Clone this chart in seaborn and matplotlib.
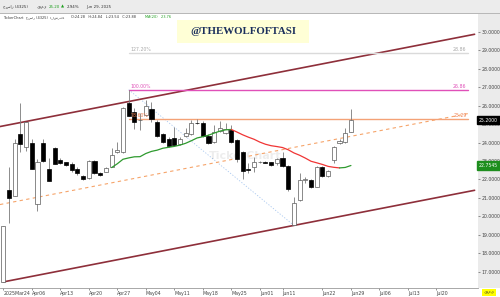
import numpy as np
import pandas as pd
import matplotlib
matplotlib.use("Agg")
import matplotlib.pyplot as plt
import matplotlib.transforms as mtransforms
from matplotlib.patches import Rectangle
import seaborn as sns

# ---------------- data ----------------
opens  = [16.45, 21.43, 21.10, 24.46, 23.74, 23.99, 20.66, 23.96, 22.57, 23.69,
          23.05, 22.93, 22.84, 22.55, 22.19, 22.06, 23.00, 22.37, 22.42, 22.69,
          23.50, 23.50, 26.16, 25.64, 25.20, 25.49, 25.80, 25.13, 24.44, 24.19,
          24.26, 23.90, 24.35, 24.45, 25.07, 25.07, 24.37, 24.01, 24.62, 24.50,
          24.68, 24.14, 23.50, 22.55, 22.69, 22.92, 22.93, 22.93, 22.87, 23.18,
          22.75, 19.51, 20.89, 21.97, 21.97, 21.61, 22.69, 22.19, 23.05, 23.96,
          24.04, 24.59]
highs  = [19.48, 22.66, 24.17, 26.16, 25.12, 24.17, 23.11, 24.17, 23.15, 23.77,
          23.15, 22.96, 22.96, 22.66, 22.23, 23.05, 23.05, 22.40, 22.68, 23.69,
          24.04, 25.92, 26.86, 25.85, 25.58, 26.30, 26.18, 25.20, 24.53, 24.28,
          24.86, 24.30, 24.77, 25.22, 25.27, 25.15, 24.45, 24.95, 25.17, 25.04,
          24.95, 24.20, 23.55, 22.89, 23.20, 23.00, 22.98, 22.96, 23.15, 23.50,
          22.80, 21.07, 22.33, 22.12, 22.00, 22.75, 22.75, 22.50, 23.80, 24.17,
          24.77, 25.80]
lows   = [16.45, 19.66, 21.10, 23.50, 23.56, 22.57, 20.31, 22.96, 21.93, 22.84,
          22.84, 22.75, 22.42, 22.24, 21.98, 22.00, 22.30, 22.20, 22.38, 22.69,
          23.45, 23.43, 25.45, 24.72, 24.68, 25.45, 25.13, 24.30, 24.00, 23.78,
          23.80, 23.85, 24.30, 24.40, 24.98, 24.30, 23.90, 23.95, 24.55, 24.45,
          23.95, 22.95, 22.01, 22.35, 22.42, 22.88, 22.88, 22.75, 22.80, 22.70,
          21.40, 19.51, 20.85, 21.79, 21.55, 21.60, 22.15, 22.15, 22.87, 23.90,
          24.00, 24.55]
closes = [19.48, 20.98, 23.99, 23.90, 25.09, 22.57, 22.96, 23.00, 21.93, 22.84,
          22.87, 22.78, 22.51, 22.33, 22.03, 23.00, 22.37, 22.24, 22.64, 23.32,
          23.60, 25.89, 25.45, 25.09, 25.24, 25.98, 25.26, 24.35, 24.01, 23.83,
          23.87, 24.17, 24.50, 25.07, 25.04, 24.37, 23.96, 24.55, 24.78, 24.72,
          24.01, 23.09, 22.47, 22.52, 22.96, 22.95, 22.90, 22.77, 23.09, 22.75,
          21.47, 20.74, 21.97, 22.00, 21.61, 22.69, 22.19, 22.46, 23.77, 24.08,
          24.50, 25.20]

date_tick_pos    = [0, 5, 10, 15, 20, 25, 30, 35, 40, 45, 49, 56, 61, 66, 71, 76]
date_tick_labels = ["2025Mar24", "Apr06", "Apr13", "Apr20", "Apr27", "May04",
                    "May11", "May18", "May25", "Jun01", "Jun11", "Jun22",
                    "Jun29", "Jul06", "Jul13", "Jul20"]
price_ticks = list(range(17, 31))

ma_period = 20
fib_high_idx, fib_low_idx = 22, 51
fib_levels = [1.272, 1.0, 0.786]
fib_names = ["127.20%", "100.00%", "78.60%"]
channel_width = 8.45

# ---------------- frame ----------------
df = pd.DataFrame({"o": opens, "h": highs, "l": lows, "c": closes})
df["i"] = np.arange(len(df))
df["ma"] = df["c"].rolling(ma_period).mean()

sns.set_style("white")
plt.rcParams["font.family"] = ["DejaVu Sans"]

W, H = 500, 297
fig = plt.figure(figsize=(5.0, 2.97), dpi=100)
fig.patch.set_facecolor("white")

# header band + right price panel (behind everything)
fig.patches.append(Rectangle((0, 1 - 13 / H), 1, 13 / H, transform=fig.transFigure,
                             fc="#ECECEC", ec="none", zorder=-5))
fig.patches.append(Rectangle((0, 1 - 14 / H), 1, 1.2 / H, transform=fig.transFigure,
                             fc="#B8B8B8", ec="none", zorder=-5))
fig.patches.append(Rectangle((478 / W, 9 / H), 22 / W, (288 - 14) / H,
                             transform=fig.transFigure, fc="#EBEBEB", ec="none", zorder=-5))

ax = fig.add_axes([0, 9 / H, 478 / W, (288 - 14) / H])
ax.set_facecolor("white")
x0, x1 = -0.58, 83.3
ax.set_xlim(x0, x1)
ax.set_ylim(16.12, 30.96)

# ---------------- channel ----------------
slope = (lows[fib_low_idx] - lows[0]) / (fib_low_idx - 0)
cx = np.array([x0, 82.7])
lower = lows[0] + slope * (cx - 0)
upper = lower + channel_width
ax.plot([0, 82.7], lows[0] + slope * np.array([0, 82.7]), color="#8E2F3A", lw=1.2, zorder=2)
ax.plot(cx, upper, color="#8E2F3A", lw=1.2, zorder=2)
mx = np.array([x0, 81.5])
ax.plot(mx, lows[0] + slope * mx + channel_width / 2, color="#F6A46A", lw=0.8,
        ls=(0, (3, 3)), zorder=2)

# ---------------- fibonacci ----------------
lo, hi = lows[fib_low_idx], highs[fib_high_idx]
fib_colors = ["#DADADA", "#E050B8", "#F4A276"]
fib_text_colors = ["#A8A8A8", "#E050B8", "#F08050"]
for lvl, name, col, tcol in zip(fib_levels, fib_names, fib_colors, fib_text_colors):
    v = lo + lvl * (hi - lo)
    ax.plot([fib_high_idx, 81.5], [v, v], color=col, lw=1.0, zorder=2)
    ax.text(fib_high_idx + 0.3, v + 0.05, name, fontsize=3.3, color=tcol,
            va="bottom", ha="left", zorder=6)
    ax.text(81.3, v + 0.03, f"{v:.2f}", fontsize=3.3, color=tcol,
            va="bottom", ha="right", zorder=6)
ax.plot([fib_high_idx, fib_low_idx], [hi, lo], color="#A9C8F0", lw=0.6,
        ls=(0, (1.5, 2)), zorder=1)

# watermark
ax.text(42.5, 23.25, "TickerChart", fontsize=8, fontweight="bold", color="#000000",
        alpha=0.07, ha="center", va="center", zorder=1)

# ---------------- candles ----------------
bw = 0.72
for _, r in df.iterrows():
    ax.vlines(r.i, r.l, r.h, color="#7A7A7A", lw=0.6, zorder=3)
    bottom = min(r.o, r.c)
    height = max(abs(r.c - r.o), 0.03)
    up = r.c >= r.o
    ax.bar(r.i, height, bottom=bottom, width=bw,
           color="white" if up else "black",
           edgecolor="#5A5A5A" if up else "black", linewidth=0.5, zorder=4)

# ---------------- moving average (green rising / red falling) ----------------
ma = df.dropna(subset=["ma"]).reset_index(drop=True)
rising = (ma["ma"].diff().bfill() >= 0)
grp = (rising != rising.shift()).cumsum()
for g, part in ma.groupby(grp):
    start = max(part.index.min() - 1, 0)
    piece = ma.loc[start:part.index.max()]
    col = "#2E9A2E" if rising.loc[part.index.min()] else "#F03535"
    sns.lineplot(x=piece["i"], y=piece["ma"], ax=ax, color=col, lw=0.9, zorder=5,
                 legend=False)
ax.set_xlabel("")
ax.set_ylabel("")

# ---------------- axes styling ----------------
for s in ["top", "left", "right"]:
    ax.spines[s].set_visible(False)
ax.spines["bottom"].set_color("#9A9A9A")
ax.spines["bottom"].set_linewidth(0.6)

ax.yaxis.tick_right()
ax.set_yticks(price_ticks)
ax.set_yticklabels([f"{t:.4f}" for t in price_ticks])
ax.tick_params(axis="y", labelsize=3.3, pad=1.2, length=1.5, width=0.4,
               colors="#444444", right=True, left=False)

ax.set_xticks(date_tick_pos)
ax.set_xticklabels(date_tick_labels)
ax.tick_params(axis="x", labelsize=3.4, pad=1.0, length=1.5, width=0.4,
               colors="#444444", bottom=True)
for lab in ax.get_xticklabels():
    lab.set_ha("left")

# last price and MA value boxes
trans = mtransforms.blended_transform_factory(ax.transAxes, ax.transData)
ax.text(1.002, closes[-1], f"{closes[-1]:.4f}", transform=trans, fontsize=3.3,
        color="white", va="center", ha="left", clip_on=False, zorder=8,
        bbox=dict(boxstyle="square,pad=0.35", fc="black", ec="black"))
ax.text(1.002, df["ma"].iloc[-1], f"{df['ma'].iloc[-1]:.4f}", transform=trans,
        fontsize=3.3, color="white", va="center", ha="left", clip_on=False, zorder=8,
        bbox=dict(boxstyle="square,pad=0.35", fc="#1E8E1E", ec="#1E8E1E"))

# ---------------- header texts ----------------
ty = 1 - 6.7 / H
fig.text(3 / W, ty, "جسار (4325)", fontsize=2.9, color="#333333", va="center")
fig.text(37 / W, ty, "يومي", fontsize=2.9, color="#333333", va="center")
fig.text(49 / W, ty, f"{closes[-1]:.2f}", fontsize=2.9, color="#1E9E1E", va="center")
fig.text(61 / W, ty, "▲", fontsize=2.9, color="#1E9E1E", va="center")
fig.text(67 / W, ty, "2.94%", fontsize=2.9, color="#333333", va="center")
fig.text(86 / W, ty, "Jun 29, 2025", fontsize=2.9, color="#333333", va="center")

ty2 = 1 - 17 / H
fig.text(3 / W, ty2, "TickerChart  جسار (4325)  الشركة", fontsize=2.5, color="#333333", va="center")
fig.text(71 / W, ty2, "O:24.28   H:24.84   L:23.54   C:23.88", fontsize=2.5,
         color="#333333", va="center")
fig.text(145 / W, ty2, "MA(20)   23.76", fontsize=2.5, color="#1E9E1E", va="center")

# title box
fig.patches.append(Rectangle((177 / W, 1 - 43 / H), 132 / W, 23 / H,
                             transform=fig.transFigure, fc="#FFFFD6", ec="none", zorder=9))
fig.text(243 / W, 1 - 31.5 / H, "@THEWOLFOFTASI", fontsize=7.8, fontweight="bold",
         family=["Liberation Serif", "DejaVu Serif"], color="#1B2F5C",
         ha="center", va="center", zorder=10)

# bottom-right yellow tag
fig.text(489 / W, 4.5 / H, "يومي", fontsize=3.0, color="#333333", ha="center", va="center",
         bbox=dict(boxstyle="square,pad=0.4", fc="#FFFF00", ec="none"))

fig.savefig("out.png", dpi=100)
